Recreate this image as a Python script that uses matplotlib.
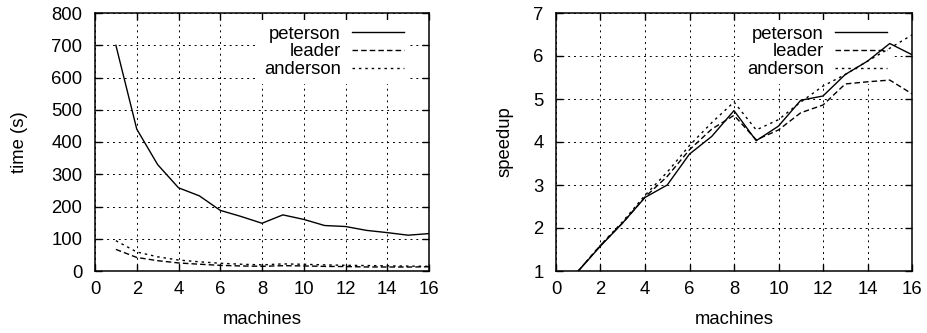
#!/usr/bin/env python3
"""Runtime and speedup of the three mutual exclusion variants vs. number of machines."""

import matplotlib

matplotlib.use("Agg")
import matplotlib.pyplot as plt

machines = list(range(1, 17))

# time (s), left panel
peterson_time = [700, 440, 330, 258, 233, 188, 169, 148, 174, 160, 141, 138, 126, 119, 111, 116]
leader_time = [67, 42, 32, 25, 21, 17.5, 15.6, 14.5, 16.5, 15.7, 14.3, 13.8, 12.5, 12.4, 12.3, 13.1]
anderson_time = [94, 59, 44, 34, 28.5, 24, 21, 19, 22, 20.8, 19, 17.7, 16.9, 16, 15.2, 14.5]

# speedup, right panel
peterson_speedup = [1, 1.58, 2.12, 2.71, 3.0, 3.72, 4.13, 4.73, 4.03, 4.37, 4.97, 5.07, 5.57, 5.88, 6.29, 6.03]
leader_speedup = [1, 1.6, 2.12, 2.72, 3.2, 3.82, 4.3, 4.62, 4.05, 4.28, 4.68, 4.86, 5.35, 5.4, 5.44, 5.12]
anderson_speedup = [1, 1.6, 2.15, 2.76, 3.3, 3.92, 4.45, 4.93, 4.28, 4.52, 4.93, 5.3, 5.57, 5.88, 6.18, 6.49]

x_ticks = list(range(0, 17, 2))
time_ticks = list(range(0, 801, 100))
speedup_ticks = list(range(1, 8))

plt.rcParams["font.family"] = ["Liberation Sans", "DejaVu Sans"]
plt.rcParams["font.size"] = 13.3

styles = {
    "peterson": dict(linestyle="-"),
    "leader": dict(linestyle=(0, (4.0, 2.2))),
    "anderson": dict(linestyle=(0, (1.8, 2.8))),
}


def style_axes(ax, yticks, ylabel, label_x, width_px):
    ax.set_xlim(0, 16)
    ax.set_ylim(yticks[0], yticks[-1])
    ax.set_xticks(x_ticks)
    ax.set_yticks(yticks)
    ax.set_axisbelow(True)
    ax.grid(True, color="black", linewidth=0.7, linestyle=(0, (2, 4)))
    ax.tick_params(direction="in", top=True, right=True, length=5, width=1)
    ax.tick_params(axis="x", pad=7)
    ax.tick_params(axis="y", pad=9)
    for sp in ax.spines.values():
        sp.set_linewidth(1.1)
    ax.set_xlabel("machines")
    ax.set_ylabel(ylabel)
    ax.xaxis.set_label_coords(0.5, -0.155)
    ax.yaxis.set_label_coords(label_x, 0.5)
    leg = ax.legend(
        loc="upper right",
        bbox_to_anchor=(1 - 19 / width_px, 1 - 7 / 258),
        markerfirst=False,
        frameon=True,
        fancybox=False,
        edgecolor="none",
        facecolor="white",
        framealpha=1,
        handlelength=2.85,
        handletextpad=0.6,
        labelspacing=0.04,
        borderpad=0.3,
        borderaxespad=0,
    )
    leg.set_zorder(1.5)


fig = plt.figure(figsize=(9.28, 3.33), dpi=100)
ax1 = fig.add_axes([95 / 928, 62 / 333, 334 / 928, 258 / 333])
ax2 = fig.add_axes([556 / 928, 62 / 333, 356 / 928, 258 / 333])

ax1.plot(machines, peterson_time, color="black", lw=1.0, label="peterson", **styles["peterson"])
ax1.plot(machines, leader_time, color="black", lw=1.0, label="leader", **styles["leader"])
ax1.plot(machines, anderson_time, color="black", lw=1.0, label="anderson", **styles["anderson"])
style_axes(ax1, time_ticks, "time (s)", -0.2, 334)

ax2.plot(machines, peterson_speedup, color="black", lw=1.0, label="peterson", **styles["peterson"])
ax2.plot(machines, leader_speedup, color="black", lw=1.0, label="leader", **styles["leader"])
ax2.plot(machines, anderson_speedup, color="black", lw=1.0, label="anderson", **styles["anderson"])
style_axes(ax2, speedup_ticks, "speedup", -0.118, 356)

fig.savefig("out.png", dpi=100)
